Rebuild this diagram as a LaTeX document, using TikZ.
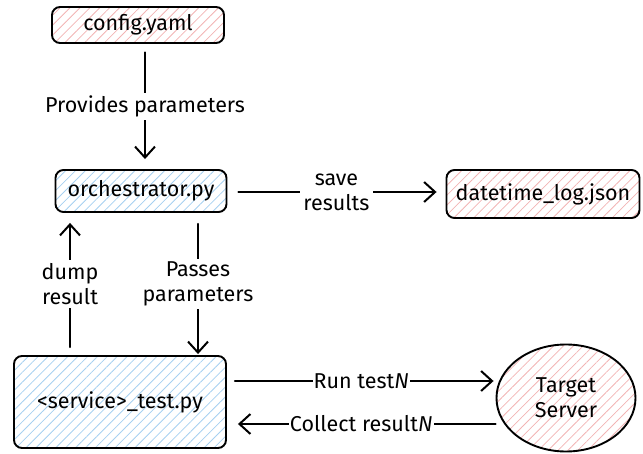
\documentclass[tikz,border=0pt]{standalone}
\usepackage{fontspec}
\setmainfont{Fira Sans}
\usetikzlibrary{arrows.meta, patterns.meta, shapes.geometric}
\definecolor{hatchred}{HTML}{F2B4B4}
\definecolor{hatchblue}{HTML}{A6D0F0}
\tikzset{>={Straight Barb[length=11pt,width=20pt,line width=2pt]}}
\tikzset{
    box/.style={draw, line width=1.9pt, rounded corners=8pt, inner sep=0pt, align=center,
        font=\fontsize{21.5}{25}\selectfont},
    redbox/.style={box, pattern={Lines[angle=45,distance=7pt,line width=0.8pt]}, pattern color=hatchred},
    bluebox/.style={box, pattern={Lines[angle=45,distance=7pt,line width=0.8pt]}, pattern color=hatchblue},
    link/.style={line width=2.2pt, line cap=round},
    lbl/.style={fill=white, inner sep=3pt, align=center, font=\fontsize{21.5}{25}\selectfont}
}

\begin{document}
\begin{tikzpicture}[x=1pt, y=-1pt]
    \useasboundingbox (0,0) rectangle (643,454);
    \node[redbox, minimum width=172, minimum height=36] (cfg) at (138,25) {config.yaml};
    \node[bluebox, minimum width=171, minimum height=42] (orch) at (141,191) {orchestrator.py};
    \node[redbox, minimum width=193, minimum height=48] (log) at (543,194) {datetime\_log.json};
    \node[bluebox, minimum width=212, minimum height=92] (svc) at (120,402) {<service>\_test.py};
    \node[redbox, ellipse, rounded corners=0pt, minimum width=139, minimum height=107] (tgt) at (566,398) {Target\\Server};

    \draw[link, ->, shorten <=9pt, shorten >=10pt] ([xshift=7pt]cfg.south) -- node[lbl] {Provides parameters} ([xshift=4pt]orch.north);
    \draw[link, ->, shorten <=11pt, shorten >=9pt] ([yshift=-1pt]orch.east) -- node[lbl] {save\\results} ([yshift=2pt]log.west);
    \draw[link, ->, shorten <=8pt, shorten >=10pt] ([xshift=-50pt]svc.north) -- node[lbl] {dump\\result} ([xshift=-71pt]orch.south);
    \draw[link, ->, shorten <=11pt, shorten >=1pt] ([xshift=57pt]orch.south) -- node[lbl] {Passes\\parameters} ([xshift=78pt]svc.north);
    \draw[link, ->, shorten <=8pt, shorten >=2pt] ([yshift=21pt]svc.east) -- node[lbl, inner sep=1pt] {Run test\textit{N}} ([yshift=21pt]svc.east -| tgt.west);
    \draw[link, ->, shorten <=0pt, shorten >=11pt] ([yshift=-22pt]svc.east -| tgt.west) -- node[lbl, inner sep=1pt] {Collect result\textit{N}} ([yshift=-22pt]svc.east);
\end{tikzpicture}
\end{document}
